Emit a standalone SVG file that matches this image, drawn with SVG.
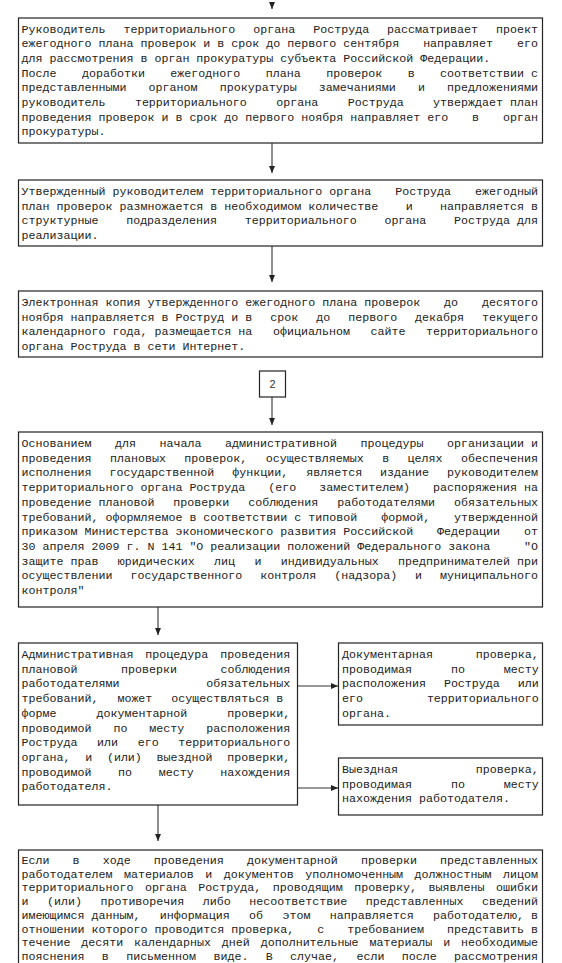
<svg xmlns="http://www.w3.org/2000/svg" width="562" height="963" viewBox="0 0 562 963">
<style>
.box{fill:#fff;stroke:#222;stroke-width:1.2}
.t{font-family:"Liberation Mono","Courier New",monospace;font-size:11.67px;fill:#222}
.z{word-spacing:0}
.n{font-family:"Liberation Sans",Arial,sans-serif;font-size:11px;fill:#333;text-anchor:middle}
.c{stroke:#333;stroke-width:1.1;fill:none;marker-end:url(#ah)}
</style>
<defs>
<marker id="ah" viewBox="0 0 7 6" refX="7" refY="3" markerWidth="7" markerHeight="6" markerUnits="userSpaceOnUse" orient="auto">
<path d="M0,0 L7,3 L0,6 Z" fill="#222"/>
</marker>
</defs>
<g id="connectors">
<line class="c" x1="272" y1="2" x2="272" y2="9"/>
<line class="c" x1="272" y1="143" x2="272" y2="173"/>
<line class="c" x1="272" y1="246" x2="272" y2="282"/>
<line class="c" x1="272" y1="397" x2="272" y2="425"/>
<line class="c" x1="158" y1="607" x2="158" y2="635"/>
<line class="c" x1="298" y1="686" x2="338" y2="686"/>
<line class="c" x1="298" y1="788" x2="338" y2="788"/>
<line class="c" x1="158" y1="805" x2="158" y2="841"/>
</g>
<g id="node1">
<rect class="box" x="18.5" y="18" width="524" height="125"/>
<text class="t" x="21.5" y="32.5" style="word-spacing:10.96px">Руководитель территориального органа Роструда рассматривает проект</text>
<text class="t" x="21.5" y="47.2" style="word-spacing:16.9px"><tspan class="z">ежегодного плана проверок и в срок до первого сентября</tspan> направляет его</text>
<text class="t" x="21.5" y="61.9">для рассмотрения в орган прокуратуры субъекта Российской Федерации.</text>
<text class="t" x="21.5" y="76.6" style="word-spacing:18.47px">После доработки ежегодного плана проверок в <tspan class="z">соответствии с</tspan></text>
<text class="t" x="21.5" y="91.3" style="word-spacing:15.16px">представленными органом прокуратуры замечаниями и предложениями</text>
<text class="t" x="21.5" y="106" style="word-spacing:22.45px">руководитель территориального органа Роструда <tspan class="z">утверждает план</tspan></text>
<text class="t" x="21.5" y="120.7" style="word-spacing:16.9px"><tspan class="z">проведения проверок и в срок до первого ноября направляет его</tspan> в орган</text>
<text class="t" x="21.5" y="135.4">прокуратуры.</text>
</g>
<g id="node2">
<rect class="box" x="18.5" y="180" width="524" height="66"/>
<text class="t" x="21.5" y="195" style="word-spacing:16.9px"><tspan class="z">Утвержденный руководителем территориального органа</tspan> Роструда ежегодный</text>
<text class="t" x="21.5" y="209.7" style="word-spacing:20.4px"><tspan class="z">план проверок размножается в необходимом количестве</tspan> и <tspan class="z">направляется в</tspan></text>
<text class="t" x="21.5" y="224.4" style="word-spacing:20.7px">структурные подразделения территориального органа <tspan class="z">Роструда для</tspan></text>
<text class="t" x="21.5" y="239.1">реализации.</text>
</g>
<g id="node3">
<rect class="box" x="18.5" y="291" width="524" height="66"/>
<text class="t" x="21.5" y="306" style="word-spacing:16.9px"><tspan class="z">Электронная копия утвержденного ежегодного плана проверок</tspan> до десятого</text>
<text class="t" x="21.5" y="320.7" style="word-spacing:10.96px"><tspan class="z">ноября направляется в Роструд и в</tspan> срок до первого декабря текущего</text>
<text class="t" x="21.5" y="335.4" style="word-spacing:13.6px"><tspan class="z">календарного года, размещается на</tspan> официальном сайте территориального</text>
<text class="t" x="21.5" y="350.1">органа Роструда в сети Интернет.</text>
</g>
<g id="node-2">
<rect class="box" x="259.5" y="371" width="26" height="26"/>
<text class="n" x="272.5" y="388">2</text>
</g>
<g id="node4">
<rect class="box" x="18.5" y="432" width="524" height="175"/>
<text class="t" x="21.5" y="447" style="word-spacing:16.56px">Основанием для начала административной процедуры <tspan class="z">организации и</tspan></text>
<text class="t" x="21.5" y="461.7" style="word-spacing:11.47px">проведения плановых проверок, осуществляемых в целях обеспечения</text>
<text class="t" x="21.5" y="476.4" style="word-spacing:10.96px">исполнения государственной функции, является издание руководителем</text>
<text class="t" x="21.5" y="491.1" style="word-spacing:15.93px"><tspan class="z">территориального органа Роструда</tspan> (его заместителем) <tspan class="z">распоряжения на</tspan></text>
<text class="t" x="21.5" y="505.8" style="word-spacing:11.95px"><tspan class="z">проведение плановой</tspan> проверки соблюдения работодателями обязательных</text>
<text class="t" x="21.5" y="520.5" style="word-spacing:16.9px"><tspan class="z">требований, оформляемое в соответствии с типовой</tspan> формой, утвержденной</text>
<text class="t" x="21.5" y="535.2" style="word-spacing:16.9px"><tspan class="z">приказом Министерства экономического развития Российской</tspan> Федерации от</text>
<text class="t" x="21.5" y="549.9" style="word-spacing:26.8px"><tspan class="z">30 апреля 2009 г. N 141 "О реализации положений Федерального закона</tspan> "О</text>
<text class="t" x="21.5" y="564.6" style="word-spacing:12.36px"><tspan class="z">защите прав</tspan> юридических лиц и индивидуальных <tspan class="z">предпринимателей при</tspan></text>
<text class="t" x="21.5" y="579.3" style="word-spacing:10.96px">осуществлении государственного контроля (надзора) и муниципального</text>
<text class="t" x="21.5" y="594">контроля"</text>
</g>
<g id="node5">
<rect class="box" x="18.5" y="643" width="279" height="162"/>
<text class="t" x="21.5" y="658" style="word-spacing:4.95px">Административная процедура проведения</text>
<text class="t" x="21.5" y="672.7" style="word-spacing:36.5px">плановой проверки соблюдения</text>
<text class="t" x="21.5" y="687.4" style="word-spacing:79.9px">работодателями обязательных</text>
<text class="t" x="21.5" y="702.1" style="word-spacing:11.95px">требований, может <tspan class="z">осуществляться в</tspan></text>
<text class="t" x="21.5" y="716.8" style="word-spacing:32.95px">форме документарной проверки,</text>
<text class="t" x="21.5" y="731.5" style="word-spacing:14.97px">проводимой по месту расположения</text>
<text class="t" x="21.5" y="746.2" style="word-spacing:12.63px">Роструда или его территориального</text>
<text class="t" x="21.5" y="760.9" style="word-spacing:7.72px">органа, и (или) выездной проверки,</text>
<text class="t" x="21.5" y="775.6" style="word-spacing:19.63px">проводимой по месту нахождения</text>
<text class="t" x="21.5" y="790.3">работодателя.</text>
</g>
<g id="node6">
<rect class="box" x="338.5" y="643" width="204" height="82"/>
<text class="t" x="342" y="658" style="word-spacing:35.9px">Документарная проверка,</text>
<text class="t" x="342" y="672.7" style="word-spacing:31.95px">проводимая по месту</text>
<text class="t" x="342" y="687.4" style="word-spacing:10.95px">расположения Роструда или</text>
<text class="t" x="342" y="702.1" style="word-spacing:56.9px">его территориального</text>
<text class="t" x="342" y="716.8">органа.</text>
</g>
<g id="node7">
<rect class="box" x="338.5" y="758" width="204" height="57"/>
<text class="t" x="342" y="773" style="word-spacing:70.9px">Выездная проверка,</text>
<text class="t" x="342" y="787.7" style="word-spacing:31.95px">проводимая по месту</text>
<text class="t" x="342" y="802.4">нахождения работодателя.</text>
</g>
<g id="node8">
<rect class="box" x="18.5" y="850" width="524" height="130"/>
<text class="t" x="21.5" y="864" style="word-spacing:16.13px">Если в ходе проведения документарной проверки представленных</text>
<text class="t" x="21.5" y="877.7" style="word-spacing:4.47px">работодателем материалов и документов уполномоченным должностным лицом</text>
<text class="t" x="21.5" y="891.4" style="word-spacing:4.47px">территориального органа Роструда, проводящим проверку, выявлены ошибки</text>
<text class="t" x="21.5" y="905.1" style="word-spacing:11.47px">и (или) противоречия либо несоответствие представленных сведений</text>
<text class="t" x="21.5" y="918.8" style="word-spacing:12.36px"><tspan class="z">имеющимся данным,</tspan> информация об этом направляется <tspan class="z">работодателю, в</tspan></text>
<text class="t" x="21.5" y="932.5" style="word-spacing:15.93px"><tspan class="z">отношении которого проводится проверка,</tspan> с требованием <tspan class="z">представить в</tspan></text>
<text class="t" x="21.5" y="946.2" style="word-spacing:3.83px">течение десяти календарных дней дополнительные материалы и необходимые</text>
<text class="t" x="21.5" y="959.9" style="word-spacing:10.35px">пояснения в письменном виде. В случае, если после рассмотрения</text>
</g>
</svg>
